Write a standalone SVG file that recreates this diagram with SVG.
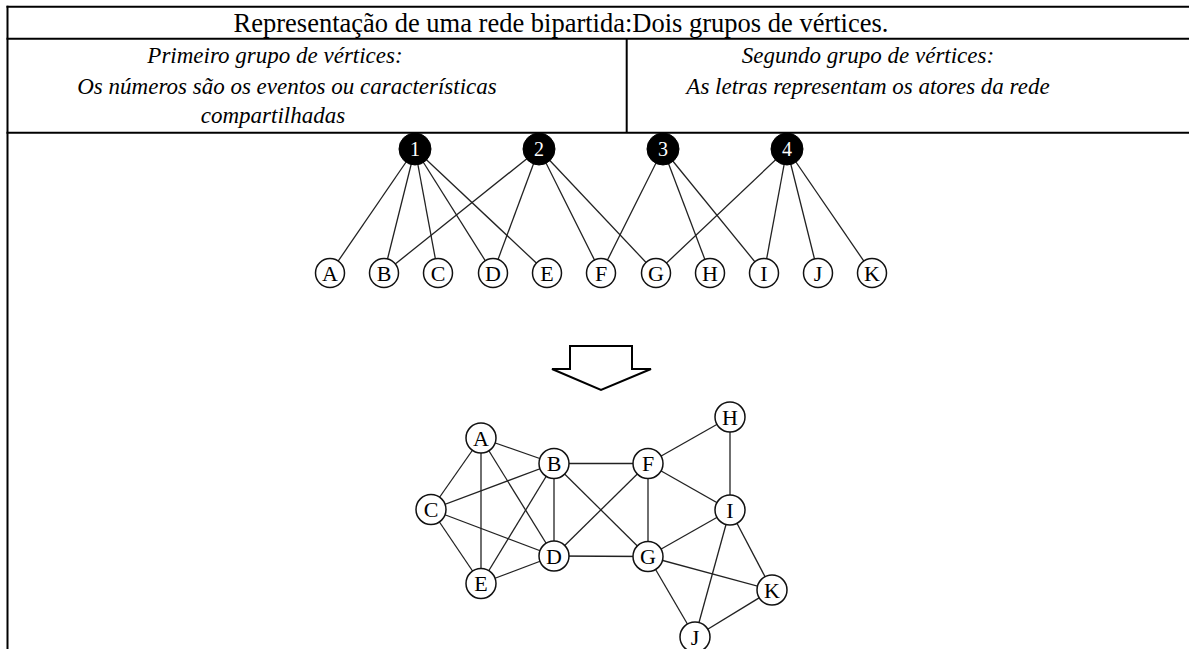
<svg xmlns="http://www.w3.org/2000/svg" width="1189" height="649" viewBox="0 0 1189 649">
  <style>
    .rule { stroke: #000; stroke-width: 2; fill: none; }
    .title { font-family: "Liberation Serif", "Times New Roman", serif; font-size: 26.5px; fill: #000; }
    .cap { font-family: "Liberation Serif", "Times New Roman", serif; font-size: 23px; font-style: italic; fill: #000; text-anchor: middle; }
    .edge { stroke: #222; stroke-width: 1.3; }
    .ev circle { fill: #000; stroke: #000; stroke-width: 1; }
    .ev text { font-family: "Liberation Serif", "Times New Roman", serif; font-size: 20px; fill: #fff; text-anchor: middle; }
    .ac circle { fill: #fff; stroke: #111; stroke-width: 1.5; }
    .ac text { font-family: "Liberation Serif", "Times New Roman", serif; font-size: 22px; fill: #000; text-anchor: middle; }
    .arrow { fill: #fff; stroke: #000; stroke-width: 2; stroke-linejoin: miter; }
  </style>

  <rect width="1189" height="649" fill="#fff"/>

  <!-- header table -->
  <g id="table">
    <line class="rule" x1="6.5" y1="6.8" x2="1189" y2="6.8"/>
    <line class="rule" x1="6.5" y1="38.8" x2="1189" y2="38.8"/>
    <line class="rule" x1="6.5" y1="132.8" x2="1189" y2="132.8"/>
    <line class="rule" x1="7.5" y1="5.8" x2="7.5" y2="649"/>
    <line class="rule" x1="626.7" y1="38.8" x2="626.7" y2="132.8"/>
    <text class="title" x="561" y="32" text-anchor="middle">Representação de uma rede bipartida:Dois grupos de vértices.</text>
    <text class="cap" x="275" y="63">Primeiro grupo de vértices:</text>
    <text class="cap" x="287" y="93.5" font-size="22">Os números são os eventos ou características</text>
    <text class="cap" x="273" y="122.5">compartilhadas</text>
    <text class="cap" x="868" y="63">Segundo grupo de vértices:</text>
    <text class="cap" x="868" y="93.5">As letras representam os atores da rede</text>
  </g>

  <!-- bipartite edges -->
  <g id="bipartite-edges">
    <line class="edge" x1="415" y1="149" x2="330" y2="273"/>
    <line class="edge" x1="415" y1="149" x2="384" y2="273"/>
    <line class="edge" x1="415" y1="149" x2="438" y2="273"/>
    <line class="edge" x1="415" y1="149" x2="493" y2="273"/>
    <line class="edge" x1="415" y1="149" x2="547" y2="273"/>
    <line class="edge" x1="539" y1="149" x2="384" y2="273"/>
    <line class="edge" x1="539" y1="149" x2="493" y2="273"/>
    <line class="edge" x1="539" y1="149" x2="601" y2="273"/>
    <line class="edge" x1="539" y1="149" x2="656" y2="273"/>
    <line class="edge" x1="663" y1="149" x2="601" y2="273"/>
    <line class="edge" x1="663" y1="149" x2="710" y2="273"/>
    <line class="edge" x1="663" y1="149" x2="764" y2="273"/>
    <line class="edge" x1="787" y1="149" x2="656" y2="273"/>
    <line class="edge" x1="787" y1="149" x2="764" y2="273"/>
    <line class="edge" x1="787" y1="149" x2="818" y2="273"/>
    <line class="edge" x1="787" y1="149" x2="872" y2="273"/>
  </g>

  <!-- events -->
  <g id="ev1" class="ev"><circle cx="415" cy="149" r="16"/><text x="415" y="156">1</text></g>
  <g id="ev2" class="ev"><circle cx="539" cy="149" r="16"/><text x="539" y="156">2</text></g>
  <g id="ev3" class="ev"><circle cx="663" cy="149" r="16"/><text x="663" y="156">3</text></g>
  <g id="ev4" class="ev"><circle cx="787" cy="149" r="16"/><text x="787" y="156">4</text></g>

  <!-- actors, bipartite row -->
  <g id="tA" class="ac"><circle cx="330" cy="273" r="14.5"/><text x="330" y="280.5">A</text></g>
  <g id="tB" class="ac"><circle cx="384" cy="273" r="14.5"/><text x="384" y="280.5">B</text></g>
  <g id="tC" class="ac"><circle cx="438" cy="273" r="14.5"/><text x="438" y="280.5">C</text></g>
  <g id="tD" class="ac"><circle cx="493" cy="273" r="14.5"/><text x="493" y="280.5">D</text></g>
  <g id="tE" class="ac"><circle cx="547" cy="273" r="14.5"/><text x="547" y="280.5">E</text></g>
  <g id="tF" class="ac"><circle cx="601" cy="273" r="14.5"/><text x="601" y="280.5">F</text></g>
  <g id="tG" class="ac"><circle cx="656" cy="273" r="14.5"/><text x="656" y="280.5">G</text></g>
  <g id="tH" class="ac"><circle cx="710" cy="273" r="14.5"/><text x="710" y="280.5">H</text></g>
  <g id="tI" class="ac"><circle cx="764" cy="273" r="14.5"/><text x="764" y="280.5">I</text></g>
  <g id="tJ" class="ac"><circle cx="818" cy="273" r="14.5"/><text x="818" y="280.5">J</text></g>
  <g id="tK" class="ac"><circle cx="872" cy="273" r="14.5"/><text x="872" y="280.5">K</text></g>

  <!-- projection arrow -->
  <g id="arrow">
    <polygon class="arrow" points="570,346 632,346 632,369 651,369 601,390 552,369 570,369"/>
  </g>

  <!-- projected network edges -->
  <g id="network-edges">
    <line class="edge" x1="481" y1="438" x2="554" y2="463.5"/>
    <line class="edge" x1="481" y1="438" x2="431" y2="509.5"/>
    <line class="edge" x1="481" y1="438" x2="481" y2="583.5"/>
    <line class="edge" x1="481" y1="438" x2="554" y2="556"/>
    <line class="edge" x1="431" y1="509.5" x2="554" y2="463.5"/>
    <line class="edge" x1="431" y1="509.5" x2="554" y2="556"/>
    <line class="edge" x1="431" y1="509.5" x2="481" y2="583.5"/>
    <line class="edge" x1="554" y1="463.5" x2="554" y2="556"/>
    <line class="edge" x1="554" y1="463.5" x2="481" y2="583.5"/>
    <line class="edge" x1="554" y1="463.5" x2="648" y2="463.5"/>
    <line class="edge" x1="554" y1="463.5" x2="648" y2="556.5"/>
    <line class="edge" x1="481" y1="583.5" x2="554" y2="556"/>
    <line class="edge" x1="554" y1="556" x2="648" y2="463.5"/>
    <line class="edge" x1="554" y1="556" x2="648" y2="556.5"/>
    <line class="edge" x1="648" y1="463.5" x2="648" y2="556.5"/>
    <line class="edge" x1="648" y1="463.5" x2="730" y2="417"/>
    <line class="edge" x1="648" y1="463.5" x2="730" y2="510"/>
    <line class="edge" x1="730" y1="417" x2="730" y2="510"/>
    <line class="edge" x1="648" y1="556.5" x2="730" y2="510"/>
    <line class="edge" x1="648" y1="556.5" x2="772" y2="590"/>
    <line class="edge" x1="648" y1="556.5" x2="695" y2="637"/>
    <line class="edge" x1="730" y1="510" x2="695" y2="637"/>
    <line class="edge" x1="730" y1="510" x2="772" y2="590"/>
    <line class="edge" x1="695" y1="637" x2="772" y2="590"/>
  </g>

  <!-- actors, projected network -->
  <g id="nA" class="ac"><circle cx="481" cy="438" r="15"/><text x="481" y="445.5">A</text></g>
  <g id="nB" class="ac"><circle cx="554" cy="463.5" r="15"/><text x="554" y="471">B</text></g>
  <g id="nC" class="ac"><circle cx="431" cy="509.5" r="15"/><text x="431" y="517">C</text></g>
  <g id="nD" class="ac"><circle cx="554" cy="556" r="15"/><text x="554" y="563.5">D</text></g>
  <g id="nE" class="ac"><circle cx="481" cy="583.5" r="15"/><text x="481" y="591">E</text></g>
  <g id="nF" class="ac"><circle cx="648" cy="463.5" r="15"/><text x="648" y="471">F</text></g>
  <g id="nG" class="ac"><circle cx="648" cy="556.5" r="15"/><text x="648" y="564">G</text></g>
  <g id="nH" class="ac"><circle cx="730" cy="417" r="15"/><text x="730" y="424.5">H</text></g>
  <g id="nI" class="ac"><circle cx="730" cy="510" r="15"/><text x="730" y="517.5">I</text></g>
  <g id="nJ" class="ac"><circle cx="695" cy="637" r="15"/><text x="695" y="644.5">J</text></g>
  <g id="nK" class="ac"><circle cx="772" cy="590" r="15"/><text x="772" y="597.5">K</text></g>
</svg>
